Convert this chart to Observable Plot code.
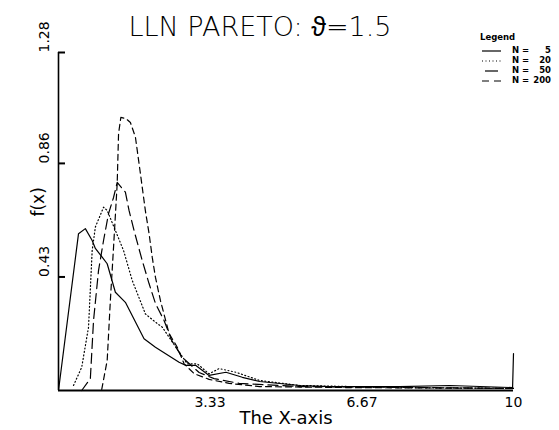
<!DOCTYPE html>
<html><head><meta charset="utf-8">
<script src="https://cdn.jsdelivr.net/npm/d3@7"></script>
<script src="https://cdn.jsdelivr.net/npm/@observablehq/plot@0.6"></script>
<style>
body{margin:0;background:#fff}
#wrap{position:relative;width:559px;height:430px}
#legend{position:absolute;left:0;top:0}
</style>
</head><body><div id="wrap"></div>
<script>
const title = "LLN PARETO: ϑ=1.5";
const xLabel = "The X-axis";
const yLabel = "f(x)";
const seriesN = ["5", "20", "50", "200"];
const dashes = [null, "1,2.5", "10,5", "6,4"];

const x5 = [0, 0.44, 0.59, 0.74, 0.81, 0.96, 1.07, 1.25, 1.47, 1.88, 2.13, 2.65, 2.80, 3.02, 3.31, 3.68, 4.04, 4.42, 5.3, 5.96, 7.5, 8.6, 9.98, 10];
const y5 = [0, 0.594, 0.613, 0.568, 0.538, 0.505, 0.48, 0.372, 0.334, 0.196, 0.164, 0.107, 0.095, 0.095, 0.057, 0.069, 0.05, 0.034, 0.019, 0.015, 0.015, 0.019, 0.011, 0.14];

const x20 = [0.33, 0.51, 0.66, 0.74, 0.81, 0.99, 1.07, 1.25, 1.43, 1.62, 1.91, 2.13, 2.28, 2.58, 2.83, 3.05, 3.31, 3.53, 3.90, 4.42, 5.3, 7.5, 10];
const y20 = [0.019, 0.088, 0.24, 0.53, 0.619, 0.694, 0.682, 0.606, 0.53, 0.417, 0.29, 0.259, 0.24, 0.164, 0.101, 0.101, 0.063, 0.083, 0.069, 0.038, 0.019, 0.011, 0.008];

const x50 = [0.51, 0.70, 0.77, 0.88, 0.99, 1.10, 1.21, 1.29, 1.47, 1.55, 1.66, 1.84, 1.99, 2.13, 2.32, 2.49, 2.72, 2.87, 3.09, 3.42, 3.97, 5.3, 10];
const y50 = [0, 0.045, 0.265, 0.455, 0.568, 0.67, 0.731, 0.788, 0.751, 0.682, 0.606, 0.492, 0.405, 0.33, 0.265, 0.189, 0.125, 0.102, 0.068, 0.045, 0.027, 0.015, 0.008];

const x200 = [0.95, 1.07, 1.14, 1.21, 1.29, 1.32, 1.37, 1.48, 1.58, 1.69, 1.77, 1.84, 1.91, 1.99, 2.06, 2.13, 2.24, 2.43, 2.61, 2.76, 2.98, 3.31, 3.75, 4.42, 6.4, 10];
const y200 = [0.004, 0.114, 0.341, 0.543, 0.784, 0.973, 1.034, 1.03, 1.015, 0.96, 0.86, 0.77, 0.68, 0.595, 0.505, 0.429, 0.341, 0.216, 0.164, 0.101, 0.064, 0.042, 0.027, 0.015, 0.011, 0.008];

const xTicks = [3.33, 6.67, 10];
const xTickLabels = ["3.33", "6.67", "10"];
const yTicks = [0.43, 0.86, 1.28];
const yTickLabels = ["0.43", "0.86", "1.28"];

const xs = [x5, x20, x50, x200];
const ys = [y5, y20, y50, y200];
const rows = xs.map((xa, i) => xa.map((x, j) => ({x, y: ys[i][j], s: seriesN[i]})));

const font = "'DejaVu Sans', sans-serif";
const W = 559, ML = 58, MR = 46, TICK = 7;

const lineMarks = rows.map((r, i) => Plot.line(r, {x: "x", y: "y", stroke: "black", strokeWidth: 1.2, strokeDasharray: dashes[i]}));

const chart = Plot.plot({
  width: W, height: 430,
  marginLeft: ML, marginRight: MR, marginTop: 52, marginBottom: 40,
  x: {domain: [0, 10], axis: null},
  y: {domain: [0, 1.28], axis: null},
  style: {fontFamily: font, background: "#fff", color: "#000"},
  marks: [
    Plot.text(yTicks, {y: d => d, text: (d, i) => yTickLabels[i], frameAnchor: "left", dx: -14, rotate: -90, fontSize: 14, fill: "#000"}),
    Plot.text(xTicks, {x: d => d, text: (d, i) => xTickLabels[i], frameAnchor: "bottom", dy: 16, fontSize: 14, fill: "#000"}),
    Plot.text([xLabel], {frameAnchor: "bottom", dy: 33, dx: 0, fontSize: 18, fill: "#000", text: d => d}),
    Plot.text([yLabel], {frameAnchor: "left", dx: -20, dy: -5, rotate: -90, fontSize: 17, fill: "#000", text: d => d}),
    Plot.text([title], {frameAnchor: "top", dy: -36, dx: -26, fontSize: 27, fontWeight: 300, fill: "#000", text: d => d}),
    ...lineMarks,
    Plot.ruleX([0], {stroke: "black", strokeWidth: 1.6}),
    Plot.ruleY([0], {stroke: "black", strokeWidth: 2.2}),
    Plot.ruleY(yTicks, {y: d => d, insetRight: W - ML - MR - TICK, stroke: "black", strokeWidth: 2})
  ]
});
const wrap = document.getElementById("wrap");
wrap.appendChild(chart);

// legend overlay
const lg = d3.select(wrap).append("svg").attr("id", "legend").attr("width", 559).attr("height", 430)
  .style("font-family", font).style("font-size", "8.5px").style("font-weight", "bold");
lg.append("text").attr("x", 480).attr("y", 40).text("Legend");
seriesN.forEach((n, i) => {
  const y = 51 + i * 10;
  if (i === 2) {
    lg.append("line").attr("x1", 485).attr("x2", 498).attr("y1", y).attr("y2", y).attr("stroke", "black").attr("stroke-width", 1.2);
  } else if (i === 3) {
    lg.append("line").attr("x1", 482).attr("x2", 501).attr("y1", y).attr("y2", y).attr("stroke", "black").attr("stroke-width", 1.2).attr("stroke-dasharray", "7,5");
  } else {
    lg.append("line").attr("x1", 482).attr("x2", 501).attr("y1", y).attr("y2", y).attr("stroke", "black").attr("stroke-width", 1.2).attr("stroke-dasharray", dashes[i]);
  }
  lg.append("text").attr("x", 512).attr("y", y + 2).text("N");
  lg.append("text").attr("x", 522).attr("y", y + 2).text("=");
  lg.append("text").attr("x", 551).attr("y", y + 2).attr("text-anchor", "end").text(n);
});
</script></body></html>
